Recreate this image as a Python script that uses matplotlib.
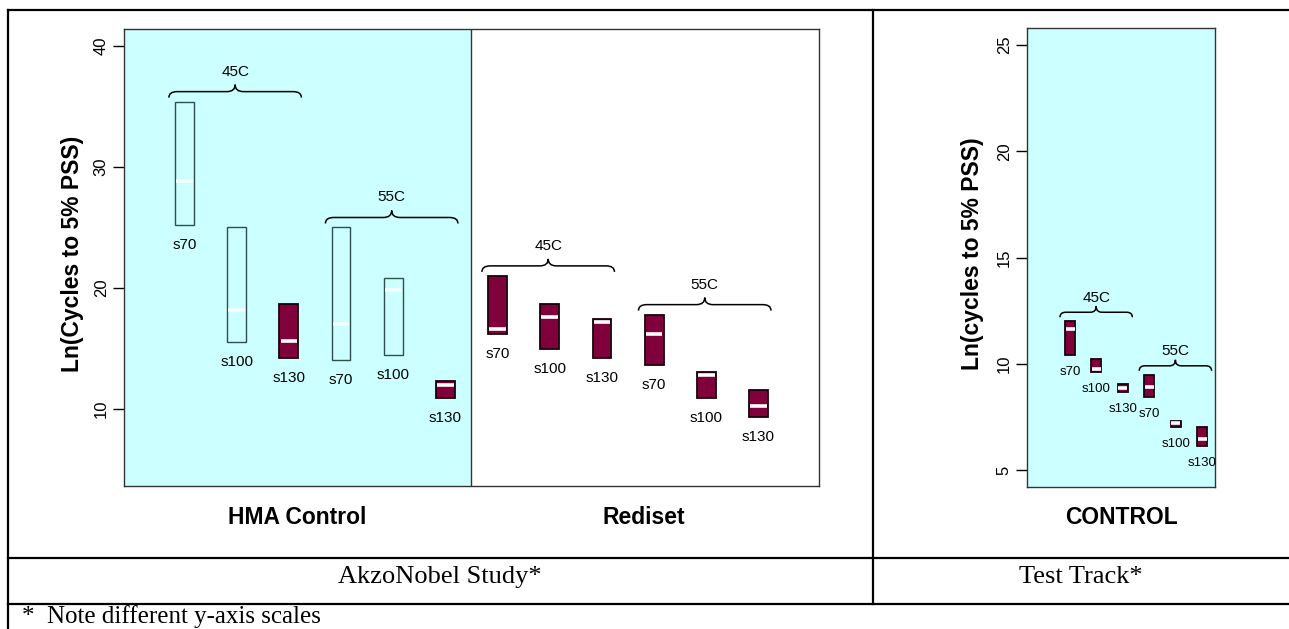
import matplotlib.pyplot as plt
from matplotlib.path import Path
from matplotlib.patches import PathPatch, Rectangle
from matplotlib.lines import Line2D

plt.rcParams['font.family'] = ['Liberation Sans', 'DejaVu Sans']

W, H = 1289, 629

# AkzoNobel study: HMA Control (first six) then Rediset (last six)
akzo_labels = ['s70', 's100', 's130', 's70', 's100', 's130',
               's70', 's100', 's130', 's70', 's100', 's130']
akzo_low = [25.2, 15.5, 14.2, 14.05, 14.5, 10.9, 16.2, 15.0, 14.2, 13.6, 10.9, 9.3]
akzo_high = [35.4, 25.0, 18.7, 25.0, 20.8, 12.3, 21.0, 18.7, 17.4, 17.8, 13.1, 11.6]
akzo_mid = [28.8, 18.2, 15.6, 17.0, 19.8, 12.0, 16.6, 17.6, 17.2, 16.2, 12.8, 10.25]
akzo_groups = ['45C', '55C', '45C', '55C']
akzo_mixes = ['HMA Control', 'Rediset']

# Test Track: control section
tt_labels = ['s70', 's100', 's130', 's70', 's100', 's130']
tt_low = [10.4, 9.62, 8.68, 8.45, 7.04, 6.14]
tt_high = [12.0, 10.23, 9.06, 9.48, 7.32, 7.04]
tt_mid = [11.65, 9.76, 8.87, 8.92, 7.2, 6.47]
tt_groups = ['45C', '55C']

MAROON = '#80003c'
CYAN = '#ccffff'


def fx(x):
    return x / W


def fy(y):
    return 1 - y / H


def brace(ax, x0, x1, y, up, down, rx, lw=1.1):
    xm = (x0 + x1) / 2
    verts = [(x0, y - down), (x0, y), (x0 + rx, y), (xm - rx, y), (xm, y), (xm, y + up),
             (xm, y), (xm + rx, y), (x1 - rx, y), (x1, y), (x1, y - down)]
    codes = [Path.MOVETO, Path.CURVE3, Path.CURVE3, Path.LINETO, Path.CURVE3, Path.CURVE3,
             Path.CURVE3, Path.CURVE3, Path.LINETO, Path.CURVE3, Path.CURVE3]
    ax.add_patch(PathPatch(Path(verts, codes), fill=False, edgecolor='black', lw=lw, zorder=4))


def boxes(ax, lows, highs, mids, labels, width, open_idx, label_px, fs):
    for i, (lo, hi, md, lab) in enumerate(zip(lows, highs, mids, labels)):
        x = i + 1
        if i in open_idx:
            ax.add_patch(Rectangle((x - width / 2, lo), width, hi - lo, facecolor=CYAN,
                                   edgecolor='#2f4f4f', lw=1.0, zorder=3))
            mc = '#f4ffff'
        else:
            ax.add_patch(Rectangle((x - width / 2, lo), width, hi - lo, facecolor=MAROON,
                                   edgecolor='#1a0008', lw=1.3, zorder=3))
            mc = 'white'
        ax.plot([x - width / 2 + 0.02, x + width / 2 - 0.02], [md, md], color=mc, lw=2.6,
                solid_capstyle='butt', zorder=4)
        ax.annotate(lab, (x, lo), xytext=(0, -label_px), textcoords='offset pixels',
                    ha='center', va='center', fontsize=fs, zorder=5)


def style_axes(ax, ticks):
    for s in ax.spines.values():
        s.set_color('#333333')
        s.set_linewidth(1.0)
    ax.set_xticks([])
    ax.set_yticks(ticks)
    ax.tick_params(axis='y', length=8, width=1, labelsize=12, pad=3, labelrotation=90)
    for t in ax.get_yticklabels():
        t.set_va('center')


fig = plt.figure(figsize=(W / 100, H / 100), dpi=100)

# --- AkzoNobel panel ---
ax = fig.add_axes([fx(124), fy(486), fx(819 - 124), (486 - 29) / H])
ax.set_xlim(-0.16, 13.16)
ax.set_ylim(3.64, 41.4)
ax.axvspan(-0.16, 6.5, color=CYAN, zorder=0, lw=0)
ax.axvline(6.5, color='#333333', lw=1.0, zorder=1)
style_axes(ax, [10, 20, 30, 40])
boxes(ax, akzo_low, akzo_high, akzo_mid, akzo_labels, 0.36, {0, 1, 3, 4}, 20, 11)

# braces over each temperature group of three boxes
ppu = (486 - 29) / (41.4 - 3.64)
for g, name in enumerate(akzo_groups):
    c = 3 * g + 2
    top = max(akzo_high[3 * g:3 * g + 3])
    yb = top + 10 / ppu
    brace(ax, c - 1.3, c + 1.24, yb, 7 / ppu, 6 / ppu, 0.16)
    ax.text(c - 0.03, yb + 20 / ppu, name, ha='center', va='center', fontsize=11)

fig.text(fx(72), fy(254), 'Ln(Cycles to 5% PSS)', rotation=90, ha='center', va='center',
         fontsize=16.5, fontweight='bold')
fig.text(fx(297), fy(517), akzo_mixes[0], ha='center', va='center', fontsize=16.5,
         fontweight='bold')
fig.text(fx(644), fy(517), akzo_mixes[1], ha='center', va='center', fontsize=16.5,
         fontweight='bold')

# --- Test Track panel ---
ax2 = fig.add_axes([fx(1027), fy(487), fx(1215 - 1027), (487 - 28) / H])
ax2.set_xlim(-0.63, 6.49)
ax2.set_ylim(4.2, 25.8)
ax2.set_facecolor(CYAN)
style_axes(ax2, [5, 10, 15, 20, 25])
boxes(ax2, tt_low, tt_high, tt_mid, tt_labels, 0.38, set(), 17, 9.5)

ppu2 = (487 - 28) / (25.8 - 4.2)
for g, name in enumerate(tt_groups):
    c = 3 * g + 2
    top = max(tt_high[3 * g:3 * g + 3])
    yb = top + 9 / ppu2
    brace(ax2, c - 1.38, c + 1.36, yb, 6 / ppu2, 5 / ppu2, 0.22)
    ax2.text(c, yb + 14.5 / ppu2, name, ha='center', va='center', fontsize=11)

fig.text(fx(973), fy(254), 'Ln(cycles to 5% PSS)', rotation=90, ha='center', va='center',
         fontsize=16.5, fontweight='bold')
fig.text(fx(1121), fy(517), 'CONTROL', ha='center', va='center', fontsize=16.5,
         fontweight='bold')

# --- table frame around the panels ---
frame = [((8, 1289), (10, 10)), ((8, 8), (10, 629)), ((873, 873), (10, 604)),
         ((8, 1289), (558, 558)), ((8, 1289), (604, 604))]
for xs, ys in frame:
    fig.add_artist(Line2D([fx(xs[0]), fx(xs[1])], [fy(ys[0]), fy(ys[1])],
                          color='black', lw=1.6, transform=fig.transFigure))

fig.text(fx(440), fy(583), 'AkzoNobel Study*', ha='center', va='baseline', fontsize=19,
         family='Liberation Serif')
fig.text(fx(1081), fy(583), 'Test Track*', ha='center', va='baseline', fontsize=19,
         family='Liberation Serif')
fig.text(fx(22), fy(623), '*  Note different y-axis scales', ha='left', va='baseline',
         fontsize=18, family='Liberation Serif')

fig.savefig('out.png', dpi=100)
